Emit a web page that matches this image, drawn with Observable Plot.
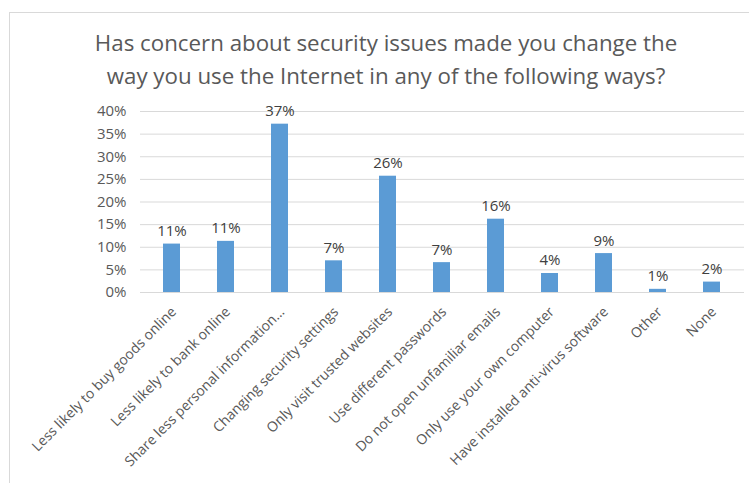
<!DOCTYPE html>
<html>
<head>
<meta charset="utf-8">
<script src="https://cdn.jsdelivr.net/npm/d3@7"></script>
<script src="https://cdn.jsdelivr.net/npm/@observablehq/plot@0.6"></script>
<style>
  html, body { margin: 0; padding: 0; background: #fff; }
  #wrap { position: relative; width: 749px; height: 483px; overflow: hidden; font-family: "Open Sans", sans-serif; }
  #frame { position: absolute; left: 9px; top: 12px; width: 800px; height: 520px; border: 1px solid #d9d9d9; box-sizing: border-box; }
  #title { position: absolute; left: 0; top: 26px; width: 772px; text-align: center; color: #595959; font-size: 22.3px; line-height: 33px; }
  #chart { position: absolute; left: 0; top: 0; }
</style>
</head>
<body>
<div id="wrap">
  <div id="frame"></div>
  <div id="title">Has concern about security issues made you change the<br>way you use the Internet in any of the following ways?</div>
  <div id="chart"></div>
</div>
<script>
const categories = [
  "Less likely to buy goods online",
  "Less likely to bank online",
  "Share less personal information…",
  "Changing security settings",
  "Only visit trusted websites",
  "Use different passwords",
  "Do not open unfamiliar emails",
  "Only use your own computer",
  "Have installed anti-virus software",
  "Other",
  "None"
];
const values = [0.107, 0.113, 0.372, 0.070, 0.257, 0.066, 0.162, 0.042, 0.086, 0.007, 0.023];
const valueLabels = ["11%", "11%", "37%", "7%", "26%", "7%", "16%", "4%", "9%", "1%", "2%"];
const yTicks = [0, 0.05, 0.10, 0.15, 0.20, 0.25, 0.30, 0.35, 0.40];

const data = categories.map((c, i) => ({category: c, value: values[i], label: valueLabels[i]}));

const chart = Plot.plot({
  width: 749,
  height: 483,
  marginTop: 111,
  marginLeft: 140,
  marginRight: 5,
  marginBottom: 191,
  style: {fontFamily: "'Open Sans', sans-serif", color: "#595959", background: "transparent"},
  x: {domain: categories, paddingInner: 0.68, paddingOuter: 0.34, axis: null},
  y: {domain: [0, 0.4], axis: null},
  marks: [
    Plot.gridY(yTicks, {stroke: "#d9d9d9", strokeOpacity: 1, strokeWidth: 1}),
    Plot.axisY(yTicks, {tickFormat: d3.format(".0%"), tickSize: 0, tickPadding: 14, label: null, fontSize: 15, fill: "#595959"}),
    Plot.barY(data, {x: "category", y: "value", fill: "#5B9BD5"}),
    Plot.text(data, {x: "category", y: "value", text: "label", lineAnchor: "bottom", dy: -8, fontSize: 15, fill: "#404040"}),
    Plot.axisX(categories, {tickRotate: -45, tickSize: 0, tickPadding: 17, dx: 2, label: null, fontSize: 14, fill: "#595959"})
  ]
});
document.getElementById("chart").appendChild(chart);
</script>
</body>
</html>
